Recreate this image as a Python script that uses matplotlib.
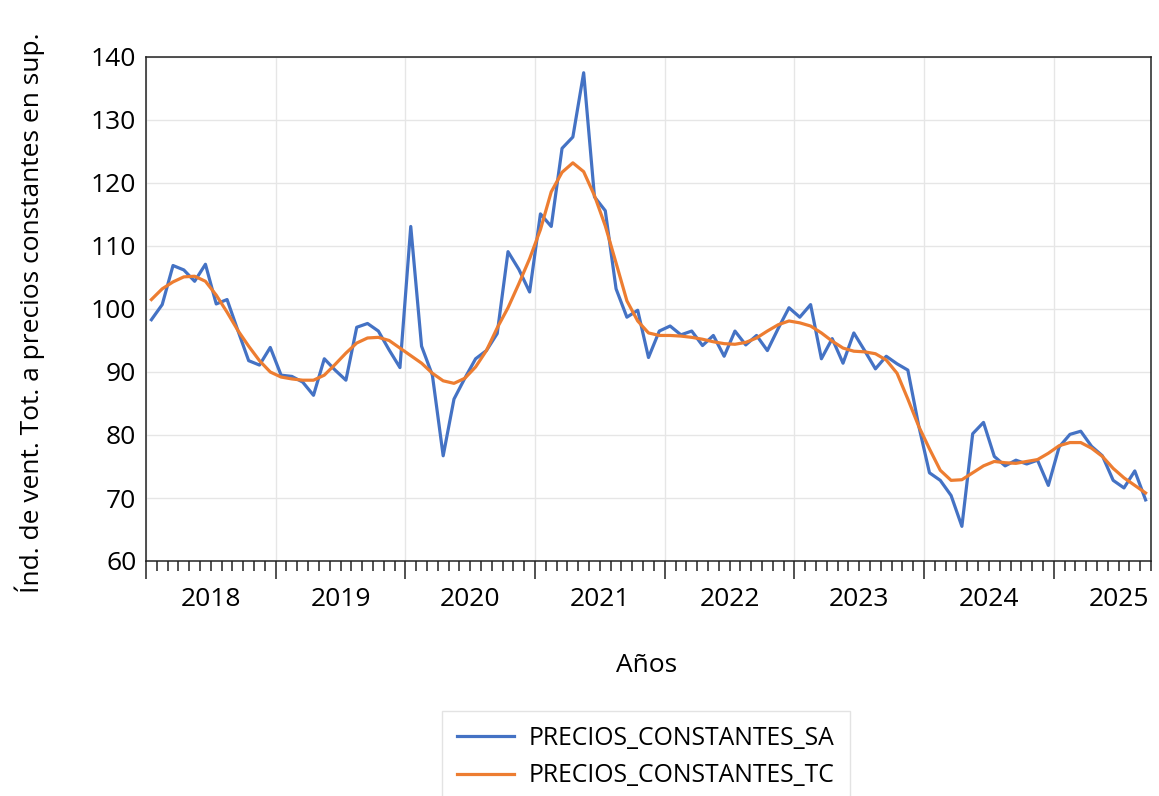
import matplotlib
matplotlib.use("Agg")
import matplotlib.pyplot as plt
import numpy as np

# Monthly data, Jan 2018 .. Sep 2025
start_year = 2018
sa = [98.3, 100.7, 106.9, 106.2, 104.4, 107.1, 100.8, 101.5, 96.6, 91.8, 91.1, 93.9,
      89.5, 89.3, 88.4, 86.3, 92.1, 90.3, 88.7, 97.1, 97.7, 96.5, 93.5, 90.7,
      113.1, 94.1, 89.5, 76.7, 85.7, 89.0, 92.1, 93.4, 96.1, 109.1, 106.3, 102.7,
      115.1, 113.1, 125.5, 127.3, 137.5, 117.8, 115.6, 103.2, 98.7, 99.8, 92.3, 96.5,
      97.3, 95.9, 96.5, 94.2, 95.8, 92.5, 96.5, 94.3, 95.8, 93.4, 96.9, 100.2,
      98.7, 100.7, 92.1, 95.3, 91.4, 96.2, 93.4, 90.5, 92.5, 91.3, 90.3, 81.5,
      74.0, 72.8, 70.4, 65.5, 80.2, 82.0, 76.6, 75.1, 76.0, 75.4, 76.0, 72.0,
      78.1, 80.1, 80.6, 78.2, 76.7, 72.8, 71.6, 74.3, 69.7]
tc = [101.5, 103.2, 104.3, 105.1, 105.2, 104.4, 102.2, 99.5, 96.6, 94.1, 91.8, 90.0,
      89.2, 88.9, 88.7, 88.7, 89.5, 91.2, 93.0, 94.6, 95.4, 95.5, 95.0, 93.8,
      92.6, 91.4, 89.8, 88.6, 88.2, 89.0, 90.8, 93.4, 97.0, 100.2, 104.0, 108.0,
      112.6, 118.6, 121.7, 123.2, 121.8, 118.0, 113.2, 107.3, 101.3, 98.1, 96.2, 95.8,
      95.8, 95.7, 95.5, 95.2, 94.8, 94.5, 94.4, 94.7, 95.4, 96.5, 97.5, 98.1,
      97.8, 97.3, 96.2, 94.9, 93.8, 93.3, 93.2, 92.9, 91.9, 89.8, 85.7, 81.4,
      77.8, 74.4, 72.8, 72.9, 74.0, 75.1, 75.8, 75.6, 75.5, 75.8, 76.1, 77.1,
      78.3, 78.8, 78.8, 77.9, 76.6, 74.7, 73.2, 72.0, 70.8]
years = [2018, 2019, 2020, 2021, 2022, 2023, 2024, 2025]
yticks = [60, 70, 80, 90, 100, 110, 120, 130, 140]
labels = ["PRECIOS_CONSTANTES_SA", "PRECIOS_CONSTANTES_TC"]

plt.rcParams['font.family'] = ['Open Sans', 'DejaVu Sans']

fig = plt.figure(figsize=(11.59, 7.96), dpi=100)
ax = fig.add_axes([146/1159, 1-561/796, (1151-146)/1159, (561-57)/796])

n = len(sa)
x = np.arange(n) + 0.5
ax.plot(x, sa, color='#4472C4', lw=2.3, label=labels[0])
ax.plot(x, tc, color='#ED7D31', lw=2.3, label=labels[1])

ax.set_xlim(0, n)
ax.set_ylim(60, 140)
ax.set_yticks(yticks)
ax.set_yticklabels([str(v) for v in yticks], fontsize=19, color='#000000')
ax.tick_params(axis='y', length=0, pad=7)

major = [(y - start_year) * 12 for y in years]
ax.set_xticks(major)
ax.set_xticklabels([''] * len(major))
ax.set_xticks(np.arange(0, n + 1), minor=True)
ax.tick_params(axis='x', which='major', length=13, width=1.1, color='#222222', direction='out')
ax.tick_params(axis='x', which='minor', length=7, width=1.1, color='#222222', direction='out')

for i, yr in enumerate(years):
    cx = major[i] + 6
    if cx < n:
        ax.annotate(str(yr), xy=(cx, 0), xycoords=('data', 'axes fraction'),
                    xytext=(0, -26), textcoords='offset pixels',
                    ha='center', va='top', fontsize=19, color='#000000')

ax.grid(True, which='major', color='#E6E6E6', lw=1)
ax.set_axisbelow(True)
for s in ax.spines.values():
    s.set_color('#222222')
    s.set_linewidth(1.1)

fig.text(647/1159, 1-665/796, 'Años', ha='center', va='center', fontsize=19, color='#000000')
fig.text(30/1159, 1-313/796, 'Índ. de vent. Tot. a precios constantes en sup.',
         rotation=90, ha='center', va='center', fontsize=19, color='#000000')

leg = fig.legend(loc='upper center', bbox_to_anchor=(646/1159, 1-711/796), ncol=1,
                 fontsize=17.8, frameon=True, fancybox=False, edgecolor='#DDDDDD',
                 handlelength=2.3, handletextpad=0.6, borderpad=0.6, labelspacing=0.5,
                 borderaxespad=0)
leg.get_frame().set_linewidth(1)
for t in leg.get_texts():
    t.set_color('#000000')

fig.savefig('out.png', dpi=100)
